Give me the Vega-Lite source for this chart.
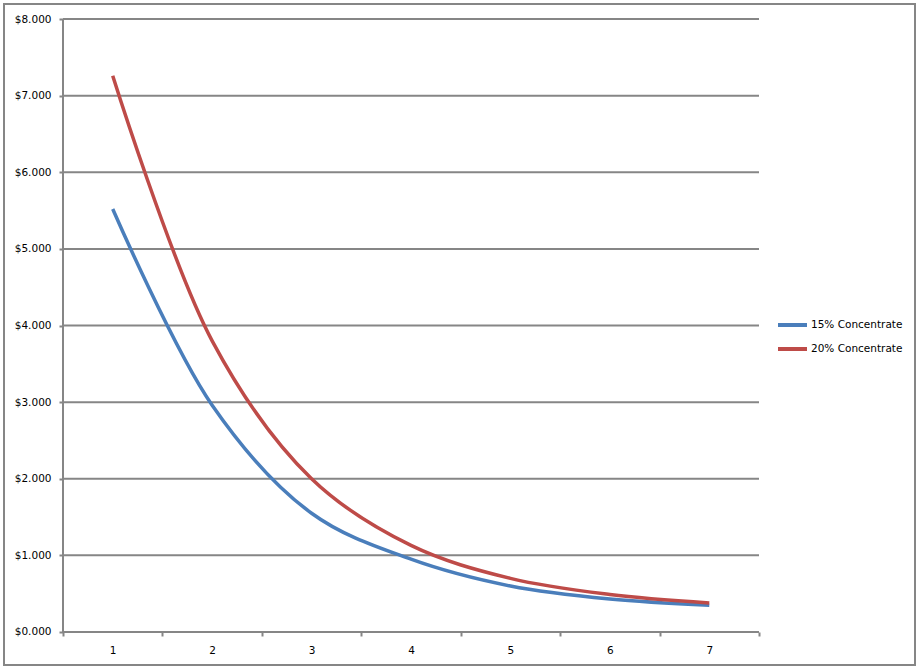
{
  "$schema": "https://vega.github.io/schema/vega-lite/v6.json",
  "width": 911,
  "height": 661,
  "autosize": "none",
  "padding": {"left": 4, "top": 4, "right": 5, "bottom": 6},
  "background": "white",
  "datasets": {
    "costs": [
      {"period": 1, "series": "15% Concentrate", "cost": 5.52},
      {"period": 2, "series": "15% Concentrate", "cost": 2.96},
      {"period": 3, "series": "15% Concentrate", "cost": 1.55},
      {"period": 4, "series": "15% Concentrate", "cost": 0.95},
      {"period": 5, "series": "15% Concentrate", "cost": 0.6},
      {"period": 6, "series": "15% Concentrate", "cost": 0.43},
      {"period": 7, "series": "15% Concentrate", "cost": 0.35},
      {"period": 1, "series": "20% Concentrate", "cost": 7.26},
      {"period": 2, "series": "20% Concentrate", "cost": 3.8},
      {"period": 3, "series": "20% Concentrate", "cost": 2.0},
      {"period": 4, "series": "20% Concentrate", "cost": 1.13},
      {"period": 5, "series": "20% Concentrate", "cost": 0.7},
      {"period": 6, "series": "20% Concentrate", "cost": 0.49},
      {"period": 7, "series": "20% Concentrate", "cost": 0.38}
    ],
    "gridlines": [
      {"level": 0}, {"level": 1}, {"level": 2}, {"level": 3}, {"level": 4},
      {"level": 5}, {"level": 6}, {"level": 7}, {"level": 8}
    ]
  },
  "layer": [
    {
      "data": {"name": "gridlines"},
      "mark": {"type": "rule", "color": "#868686", "strokeWidth": 2},
      "encoding": {
        "x": {"datum": 0.5, "type": "quantitative"},
        "x2": {"datum": 7.5},
        "y": {"field": "level", "type": "quantitative"}
      }
    },
    {
      "data": {"name": "gridlines"},
      "mark": {"type": "rule", "color": "#868686", "strokeWidth": 2},
      "encoding": {
        "x": {"datum": 0.5, "type": "quantitative"},
        "y": {"datum": 0, "type": "quantitative"},
        "y2": {"datum": 8}
      }
    },
    {
      "data": {"name": "costs"},
      "mark": {"type": "line", "interpolate": "catmull-rom", "strokeWidth": 3.5},
      "encoding": {
        "x": {"field": "period", "type": "quantitative"},
        "y": {"field": "cost", "type": "quantitative"},
        "color": {
          "field": "series",
          "type": "nominal",
          "scale": {
            "domain": ["15% Concentrate", "20% Concentrate"],
            "range": ["#4a7ebb", "#be4b48"]
          },
          "legend": {
            "title": null,
            "orient": "none",
            "legendX": 772,
            "legendY": 314,
            "symbolType": "stroke",
            "symbolSize": 841,
            "symbolStrokeWidth": 4,
            "clipHeight": 14,
            "labelOffset": 2,
            "rowPadding": 10,
            "labelFontSize": 10.5,
            "labelFont": "DejaVu Sans",
            "labelColor": "black"
          }
        }
      }
    }
  ],
  "encoding": {
    "x": {
      "type": "quantitative",
      "scale": {"domain": [-0.09339, 9.06896], "nice": false, "zero": false},
      "axis": {
        "title": null,
        "values": [0.5, 1.5, 2.5, 3.5, 4.5, 5.5, 6.5, 7.5],
        "labelExpr": "datum.value > 7 ? '' : format(datum.value + 0.5, 'd')",
        "labelOffset": 49.714,
        "labelFlush": false,
        "labelOverlap": false,
        "domain": false,
        "grid": false,
        "offset": -33,
        "tickSize": 4,
        "labelPadding": 9
      }
    },
    "y": {
      "type": "quantitative",
      "scale": {"domain": [-0.43067, 8.19576], "nice": false, "zero": false},
      "axis": {
        "title": null,
        "values": [0, 1, 2, 3, 4, 5, 6, 7, 8],
        "format": "$.3f",
        "labelOverlap": false,
        "labelFlush": false,
        "domain": false,
        "grid": false,
        "offset": -59,
        "tickSize": 4,
        "labelPadding": 8
      }
    }
  },
  "config": {
    "view": {"stroke": "#868686", "strokeWidth": 2},
    "axis": {
      "tickColor": "#868686",
      "tickWidth": 2,
      "labelFont": "DejaVu Sans",
      "labelFontSize": 10.5,
      "labelColor": "black"
    }
  }
}
